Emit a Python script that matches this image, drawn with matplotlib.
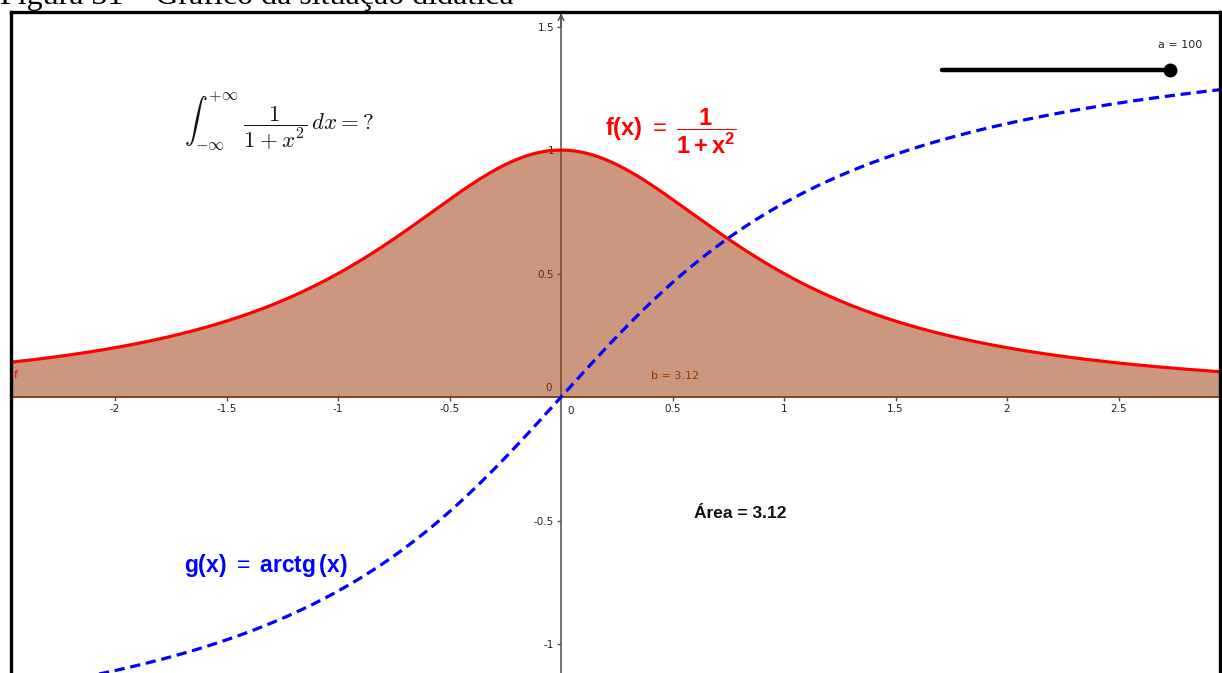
import numpy as np
import matplotlib.pyplot as plt
from matplotlib.lines import Line2D

plt.rcParams['axes.unicode_minus'] = False
plt.rcParams['mathtext.bf'] = 'Liberation Sans:bold'
plt.rcParams['mathtext.rm'] = 'Liberation Sans'
plt.rcParams['mathtext.it'] = 'Liberation Sans:italic'

# window of the graphics view
x_min, x_max = -2.462, 2.955
y_min, y_max = -1.117, 1.559

# slider value and resulting area of f over [-a, a]
a = 100
area = 3.12

x_ticks = [-2, -1.5, -1, -0.5, 0.5, 1, 1.5, 2, 2.5]
x_tick_labels = ['-2', '-1.5', '-1', '-0.5', '0.5', '1', '1.5', '2', '2.5']
y_ticks = [-1, -0.5, 0.5, 1, 1.5]
y_tick_labels = ['-1', '-0.5', '0.5', '1', '1.5']

x = np.linspace(x_min, x_max, 800)
f = 1 / (1 + x ** 2)
g = np.arctan(x)

fig = plt.figure(figsize=(12.22, 6.73), dpi=100)
ax = fig.add_axes([12 / 1222, 0, 1208 / 1222, 661 / 673])
ax.set_xlim(x_min, x_max)
ax.set_ylim(y_min, y_max)

axis_col = '#505050'
for s in ['top', 'right']:
    ax.spines[s].set_visible(False)
ax.spines['left'].set_position(('data', 0))
ax.spines['bottom'].set_position(('data', 0))
ax.spines['left'].set_color(axis_col)
ax.spines['bottom'].set_color(axis_col)
ax.spines['left'].set_linewidth(1.1)
ax.spines['bottom'].set_linewidth(1.1)

ax.set_xticks(x_ticks, x_tick_labels)
ax.set_yticks(y_ticks, y_tick_labels)
ax.tick_params(axis='both', direction='out', length=3, width=1, color=axis_col,
               labelsize=7.5, labelcolor='#222222', pad=2)
ax.text(0.03, -0.035, '0', fontsize=7.5, color='#222222', ha='left', va='top')
ax.text(-0.04, 0.015, '0', fontsize=7.5, color='#222222', ha='right', va='bottom')

# arrow at the top of the y axis
ax.annotate('', xy=(0, y_max - 0.005), xytext=(0, y_max - 0.06),
            arrowprops=dict(arrowstyle='->', color=axis_col, lw=1.1,
                            mutation_scale=10, shrinkA=0, shrinkB=0))

# shaded integral of f from -a to a
ax.fill_between(x, 0, f, where=(x >= -a) & (x <= a), color='#993300',
                alpha=0.5, linewidth=0, zorder=3)
ax.plot([x_min, x_max], [0, 0], color='#993300', lw=1.2, alpha=0.7, zorder=3)

ax.plot(x, f, color='#ff0000', lw=2.3, zorder=5, solid_capstyle='butt')
ax.plot(x, g, color='#0000ff', lw=2.3, ls=(0, (3.2, 1.8)), zorder=6)

# labels
ax.text(-2.455, 0.09, 'f', color='#ff0000', fontsize=8, ha='left', va='center', zorder=7)
ax.text(0.405, 0.085, f'b = {area:.2f}', color='#993300', fontsize=8,
        ha='left', va='center', zorder=7)
ax.text(-1.69, 1.115, r'$\int_{-\infty}^{+\infty}\ \dfrac{1}{1+x^2}\,dx = ?$',
        math_fontfamily='cm', fontsize=16.5, ha='left', va='center', color='#111111')
ax.text(0.195, 1.077, r'$\mathbf{f(x)}\ =\ \dfrac{\mathbf{1}}{\mathbf{1+x^{2}}}$',
        math_fontfamily='custom', fontsize=17, color='#ff0000', ha='left', va='center')
ax.text(-1.69, -0.68, r'$\mathbf{g(x)}\ =\ \mathbf{arctg\,(x)}$',
        math_fontfamily='custom', fontsize=16.5, color='#0000ff', ha='left', va='center')
ax.text(0.805, -0.47, f'Área = {area:.2f}', fontsize=12.5, fontweight='bold',
        family='Liberation Sans', ha='center', va='center', color='#111111')

# slider for a
ax.plot([0.770, 0.9586], [0.912, 0.912], transform=ax.transAxes, color='black',
        lw=3.2, solid_capstyle='round', zorder=8)
ax.plot([0.9586], [0.912], transform=ax.transAxes, marker='o', ms=9,
        color='black', zorder=9)
ax.text(0.967, 0.95, f'a = {a}', transform=ax.transAxes, fontsize=8,
        ha='center', va='center', color='#222222')

# outer frame of the view
for xs, ys in [([11 / 1222, 11 / 1222], [0, 661 / 673]),
               ([11 / 1222, 1220 / 1222], [661 / 673, 661 / 673]),
               ([1220 / 1222, 1220 / 1222], [0, 661 / 673])]:
    fig.add_artist(Line2D(xs, ys, transform=fig.transFigure, color='black',
                          lw=2.4, solid_capstyle='projecting'))

fig.text(0.0, 1 - 4 / 673, 'Figura 31 – Gráfico da situação didática',
         family='Liberation Serif', fontsize=23, va='baseline', ha='left')

fig.savefig('out.png', dpi=100)
